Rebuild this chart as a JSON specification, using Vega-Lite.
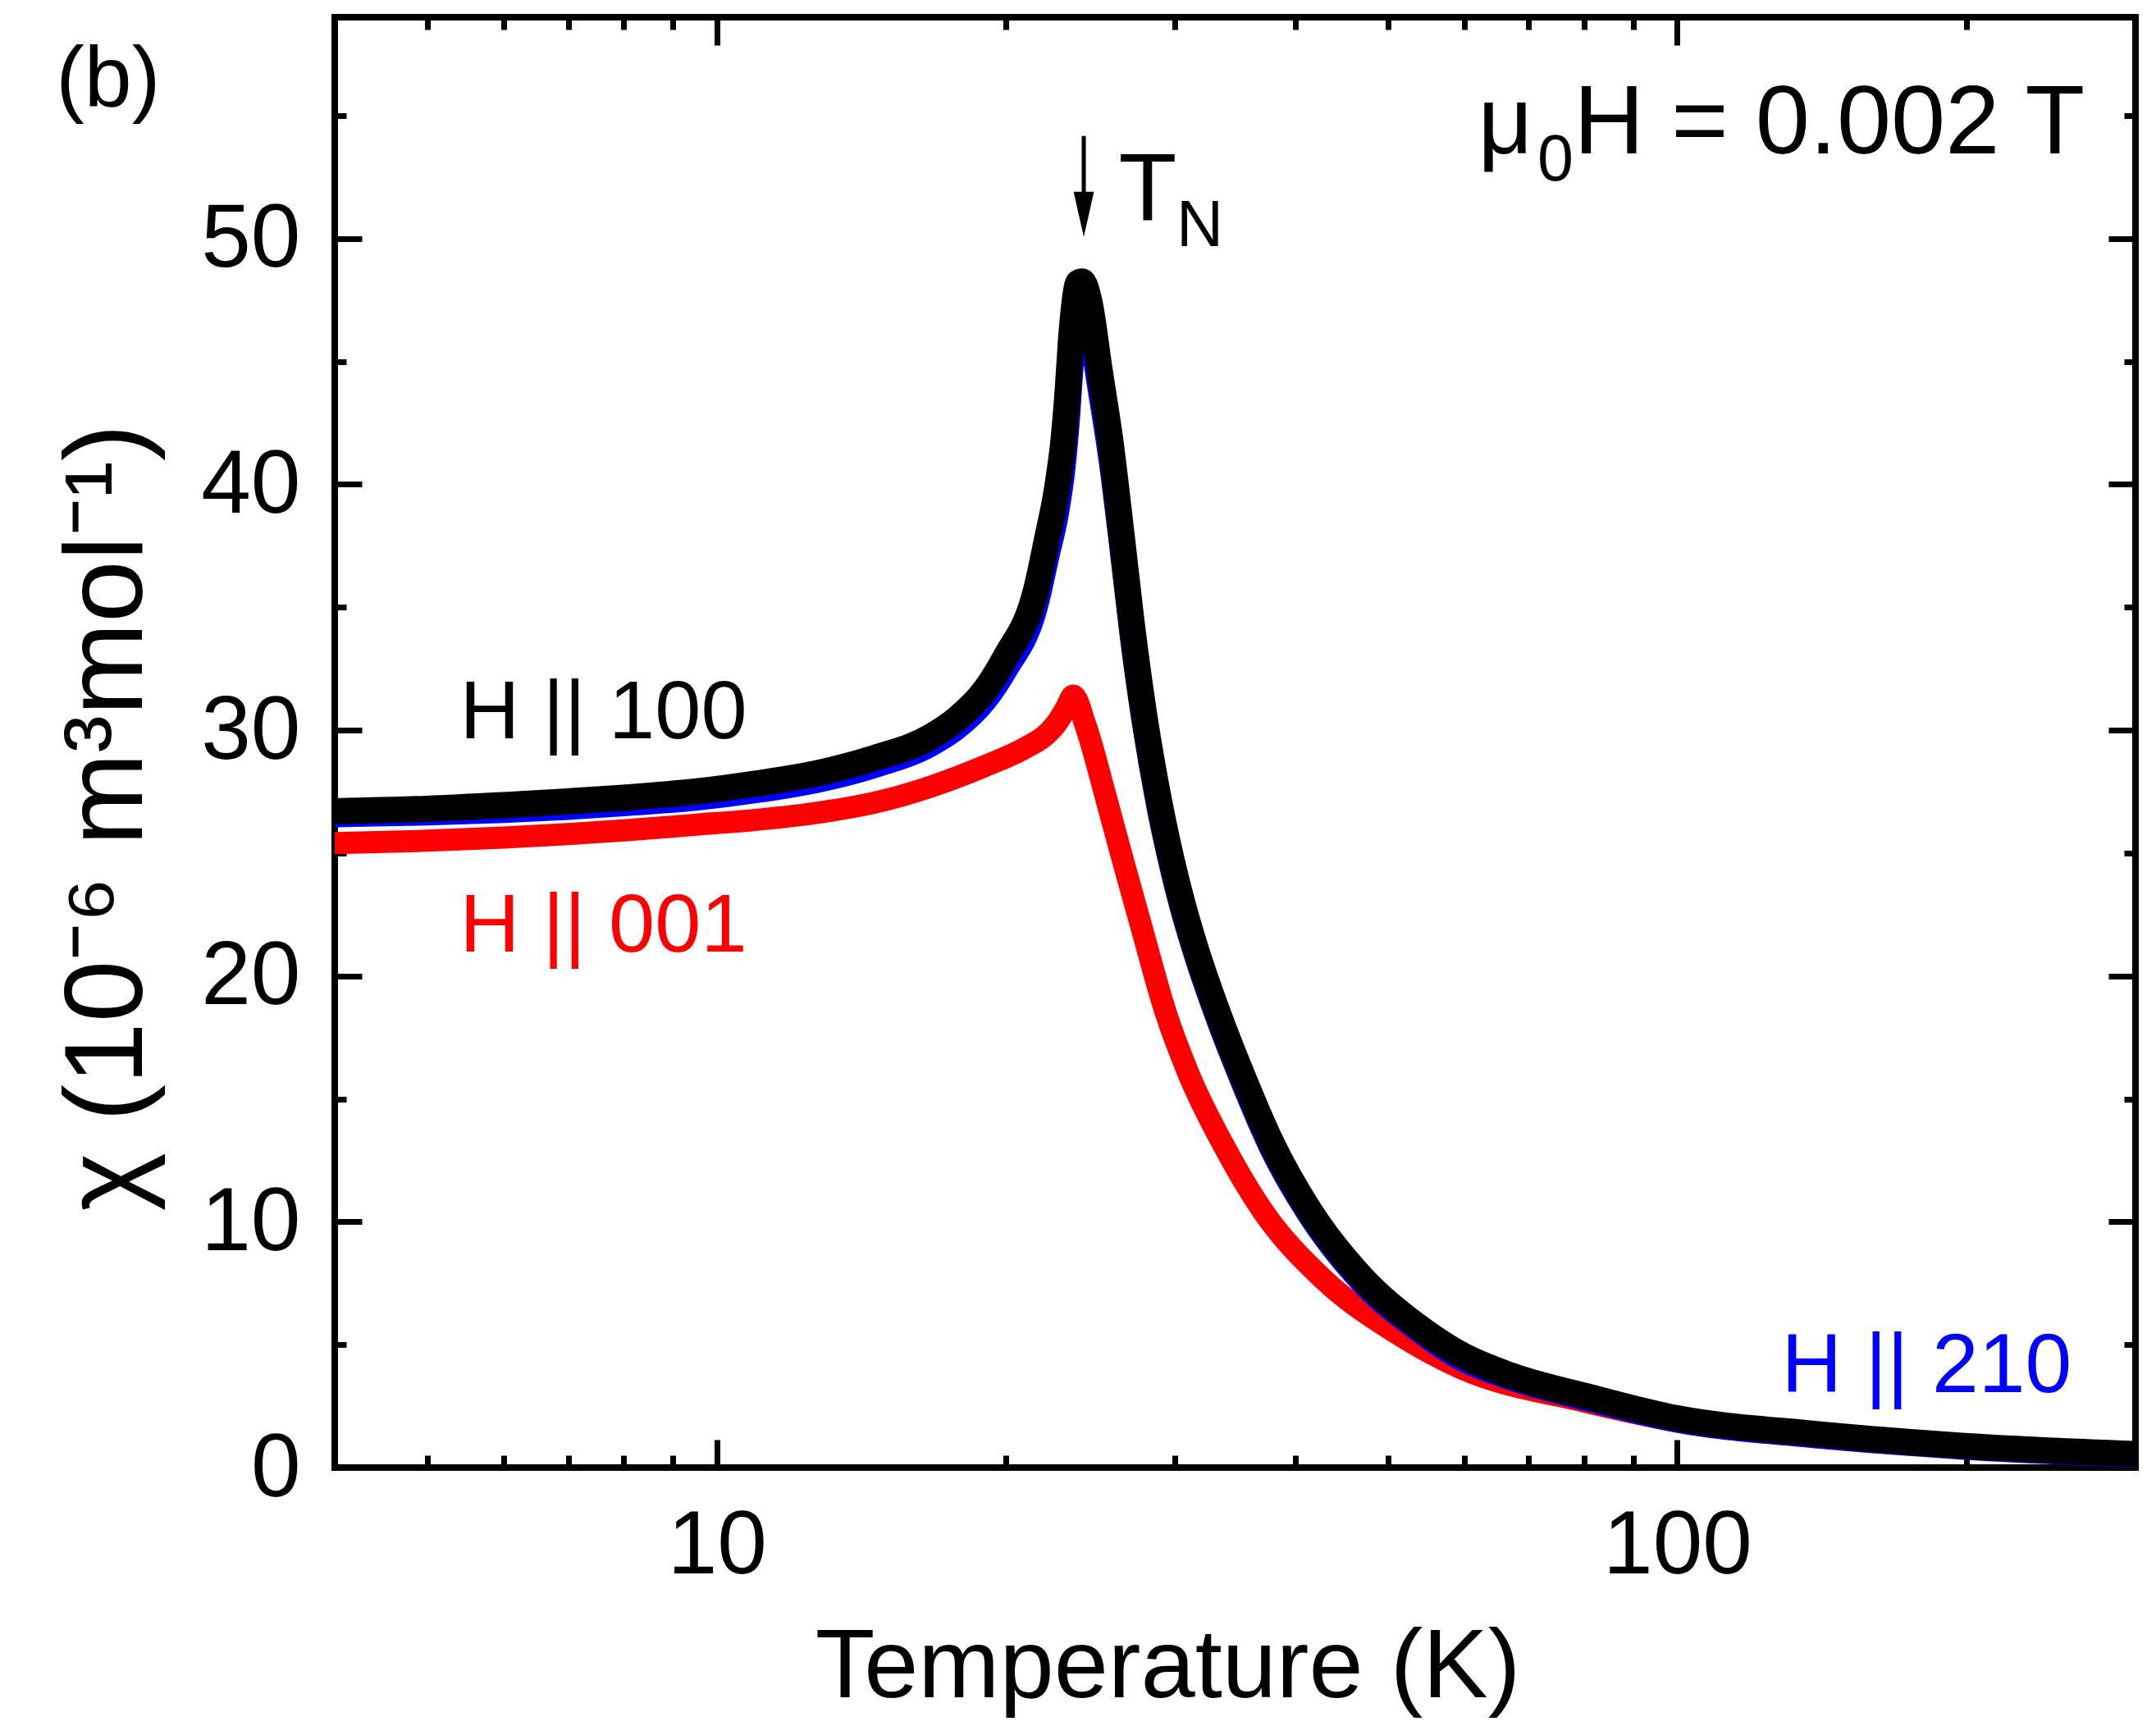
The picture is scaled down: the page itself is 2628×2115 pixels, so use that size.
{
  "$schema": "https://vega.github.io/schema/vega-lite/v6.json",
  "width": 2195,
  "height": 1768,
  "autosize": {"type": "none"},
  "padding": {"left": 408, "top": 21, "right": 25, "bottom": 326},
  "background": "white",
  "config": {
    "font": "Liberation Sans",
    "view": {"stroke": "black", "strokeWidth": 8},
    "axis": {
      "domain": false,
      "grid": false,
      "labelFont": "Liberation Sans",
      "titleFont": "Liberation Sans",
      "labelColor": "black",
      "titleColor": "black",
      "tickColor": "black",
      "tickWidth": 7,
      "tickCap": "butt",
      "labelFontSize": 109,
      "labelLimit": 0,
      "titleFontWeight": "normal"
    },
    "text": {"font": "Liberation Sans"}
  },
  "datasets": {
    "chi": [
      {"s": "H||100", "T": 4, "chi": 26.7}, {"s": "H||100", "T": 5, "chi": 26.8}, {"s": "H||100", "T": 6, "chi": 26.95},
      {"s": "H||100", "T": 7, "chi": 27.1}, {"s": "H||100", "T": 8, "chi": 27.25}, {"s": "H||100", "T": 9.5, "chi": 27.5},
      {"s": "H||100", "T": 11, "chi": 27.83}, {"s": "H||100", "T": 12.8, "chi": 28.27}, {"s": "H||100", "T": 14.6, "chi": 28.87},
      {"s": "H||100", "T": 16.7, "chi": 29.73}, {"s": "H||100", "T": 17.8, "chi": 30.47}, {"s": "H||100", "T": 19.0, "chi": 31.6},
      {"s": "H||100", "T": 20.0, "chi": 33.0}, {"s": "H||100", "T": 21.5, "chi": 35.7}, {"s": "H||100", "T": 22.08, "chi": 37.8},
      {"s": "H||100", "T": 22.6, "chi": 39.8}, {"s": "H||100", "T": 22.96, "chi": 41.8}, {"s": "H||100", "T": 23.19, "chi": 43.8},
      {"s": "H||100", "T": 23.37, "chi": 45.8}, {"s": "H||100", "T": 23.56, "chi": 47.3}, {"s": "H||100", "T": 23.8, "chi": 48.2},
      {"s": "H||100", "T": 24.0, "chi": 48.25}, {"s": "H||100", "T": 24.41, "chi": 47.47}, {"s": "H||100", "T": 25.04, "chi": 44.6},
      {"s": "H||100", "T": 25.69, "chi": 41.73}, {"s": "H||100", "T": 26.36, "chi": 38.07}, {"s": "H||100", "T": 27.04, "chi": 34.3},
      {"s": "H||100", "T": 27.85, "chi": 30.63}, {"s": "H||100", "T": 28.86, "chi": 27.13}, {"s": "H||100", "T": 29.78, "chi": 24.63},
      {"s": "H||100", "T": 30.49, "chi": 23.03}, {"s": "H||100", "T": 31.5, "chi": 21.13}, {"s": "H||100", "T": 33.3, "chi": 18.4},
      {"s": "H||100", "T": 35.2, "chi": 16.0}, {"s": "H||100", "T": 37.8, "chi": 13.2}, {"s": "H||100", "T": 41.4, "chi": 10.45},
      {"s": "H||100", "T": 47.0, "chi": 7.7}, {"s": "H||100", "T": 54.3, "chi": 5.6}, {"s": "H||100", "T": 59.5, "chi": 4.6},
      {"s": "H||100", "T": 67.0, "chi": 3.75}, {"s": "H||100", "T": 81.3, "chi": 2.85}, {"s": "H||100", "T": 100, "chi": 2.0},
      {"s": "H||100", "T": 138, "chi": 1.38}, {"s": "H||100", "T": 199, "chi": 0.88}, {"s": "H||100", "T": 300, "chi": 0.55},

      {"s": "H||210", "T": 4, "chi": 26.55}, {"s": "H||210", "T": 5, "chi": 26.62}, {"s": "H||210", "T": 6, "chi": 26.72},
      {"s": "H||210", "T": 7, "chi": 26.85}, {"s": "H||210", "T": 8, "chi": 27.0}, {"s": "H||210", "T": 9.5, "chi": 27.22},
      {"s": "H||210", "T": 11, "chi": 27.53}, {"s": "H||210", "T": 12.8, "chi": 27.97}, {"s": "H||210", "T": 14.6, "chi": 28.55},
      {"s": "H||210", "T": 16.7, "chi": 29.42}, {"s": "H||210", "T": 17.8, "chi": 30.12}, {"s": "H||210", "T": 19.0, "chi": 31.2},
      {"s": "H||210", "T": 20.0, "chi": 32.5}, {"s": "H||210", "T": 21.5, "chi": 35.1}, {"s": "H||210", "T": 22.08, "chi": 37.1},
      {"s": "H||210", "T": 22.6, "chi": 38.9}, {"s": "H||210", "T": 22.96, "chi": 40.8}, {"s": "H||210", "T": 23.19, "chi": 42.7},
      {"s": "H||210", "T": 23.37, "chi": 44.6}, {"s": "H||210", "T": 23.56, "chi": 46.0}, {"s": "H||210", "T": 23.8, "chi": 46.9},
      {"s": "H||210", "T": 24.0, "chi": 47.0}, {"s": "H||210", "T": 24.41, "chi": 46.5}, {"s": "H||210", "T": 25.04, "chi": 43.9},
      {"s": "H||210", "T": 25.69, "chi": 41.1}, {"s": "H||210", "T": 26.36, "chi": 37.6}, {"s": "H||210", "T": 27.04, "chi": 33.9},
      {"s": "H||210", "T": 27.85, "chi": 30.3}, {"s": "H||210", "T": 28.86, "chi": 26.83}, {"s": "H||210", "T": 29.78, "chi": 24.38},
      {"s": "H||210", "T": 30.49, "chi": 22.8}, {"s": "H||210", "T": 31.5, "chi": 20.93}, {"s": "H||210", "T": 33.3, "chi": 18.2},
      {"s": "H||210", "T": 35.2, "chi": 15.8}, {"s": "H||210", "T": 37.8, "chi": 13.0}, {"s": "H||210", "T": 41.4, "chi": 10.3},
      {"s": "H||210", "T": 47.0, "chi": 7.55}, {"s": "H||210", "T": 54.3, "chi": 5.48}, {"s": "H||210", "T": 59.5, "chi": 4.45},
      {"s": "H||210", "T": 67.0, "chi": 3.65}, {"s": "H||210", "T": 81.3, "chi": 2.75}, {"s": "H||210", "T": 100, "chi": 1.92},
      {"s": "H||210", "T": 138, "chi": 1.3}, {"s": "H||210", "T": 199, "chi": 0.82}, {"s": "H||210", "T": 300, "chi": 0.5},

      {"s": "H||001", "T": 4, "chi": 25.4}, {"s": "H||001", "T": 5, "chi": 25.5}, {"s": "H||001", "T": 6, "chi": 25.63},
      {"s": "H||001", "T": 7, "chi": 25.77}, {"s": "H||001", "T": 8, "chi": 25.92}, {"s": "H||001", "T": 9.5, "chi": 26.15},
      {"s": "H||001", "T": 11, "chi": 26.35}, {"s": "H||001", "T": 12.8, "chi": 26.65}, {"s": "H||001", "T": 14.6, "chi": 27.05},
      {"s": "H||001", "T": 16.7, "chi": 27.7}, {"s": "H||001", "T": 19.0, "chi": 28.53}, {"s": "H||001", "T": 21.0, "chi": 29.3},
      {"s": "H||001", "T": 22.0, "chi": 29.8}, {"s": "H||001", "T": 22.6, "chi": 30.3}, {"s": "H||001", "T": 23.1, "chi": 30.9},
      {"s": "H||001", "T": 23.5, "chi": 31.4}, {"s": "H||001", "T": 24.2, "chi": 30.2}, {"s": "H||001", "T": 25.4, "chi": 27.3},
      {"s": "H||001", "T": 26.4, "chi": 24.87}, {"s": "H||001", "T": 27.7, "chi": 21.93}, {"s": "H||001", "T": 29.3, "chi": 18.57},
      {"s": "H||001", "T": 31.0, "chi": 16.0}, {"s": "H||001", "T": 33.6, "chi": 13.2}, {"s": "H||001", "T": 37.0, "chi": 10.45},
      {"s": "H||001", "T": 42.7, "chi": 7.7}, {"s": "H||001", "T": 51.0, "chi": 5.47}, {"s": "H||001", "T": 59.5, "chi": 4.05},
      {"s": "H||001", "T": 80.4, "chi": 2.67}, {"s": "H||001", "T": 100, "chi": 1.88}, {"s": "H||001", "T": 149, "chi": 1.18},
      {"s": "H||001", "T": 199, "chi": 0.82}, {"s": "H||001", "T": 300, "chi": 0.5}
    ]
  },
  "resolve": {"axis": {"x": "independent", "y": "independent"}},
  "encoding": {
    "x": {"field": "T", "type": "quantitative", "scale": {"type": "log", "domain": [4, 300], "nice": false}, "axis": null},
    "y": {"field": "chi", "type": "quantitative", "scale": {"domain": [0, 59], "nice": false, "zero": false}, "axis": null}
  },
  "layer": [
    {
      "data": {"name": "chi"},
      "transform": [{"filter": "datum.s == 'H||001'"}],
      "mark": {"type": "line", "color": "#FF0000", "strokeWidth": 27, "strokeCap": "round", "strokeJoin": "round", "interpolate": "monotone", "clip": true},
      "encoding": {
        "x": {
          "field": "T", "type": "quantitative",
          "scale": {"type": "log", "domain": [4, 300], "nice": false},
          "axis": {
            "orient": "bottom", "values": [10, 100], "format": "d", "ticks": false, "tickSize": 0,
            "labelPadding": 128, "labelBaseline": "alphabetic", "labelFlush": false, "labelOverlap": false,
            "title": "Temperature (K)", "titleFontSize": 119, "titleX": 1015, "titleY": 279,
            "titleBaseline": "alphabetic", "titleAlign": "center"
          }
        },
        "y": {
          "field": "chi", "type": "quantitative",
          "scale": {"domain": [0, 59], "nice": false, "zero": false},
          "axis": {
            "orient": "left", "values": [0, 10, 20, 30, 40, 50], "format": "d", "ticks": false, "tickSize": 0,
            "labelPadding": 42, "labelBaseline": "alphabetic", "labelOffset": 34, "labelFlush": false, "labelOverlap": false,
            "title": "χ (10⁻⁶ m³mol⁻¹)", "titleFontSize": 136, "titleAngle": 270, "titleX": -236, "titleY": 975,
            "titleBaseline": "alphabetic", "titleAlign": "center"
          }
        }
      }
    },
    {
      "data": {"name": "chi"},
      "transform": [{"filter": "datum.s == 'H||210'"}],
      "mark": {"type": "line", "color": "#0000FF", "strokeWidth": 30, "strokeCap": "round", "strokeJoin": "round", "interpolate": "monotone", "clip": true},
      "encoding": {
        "x": {
          "field": "T", "type": "quantitative",
          "scale": {"type": "log", "domain": [4, 300], "nice": false},
          "axis": {
            "orient": "bottom", "values": [5, 6, 7, 8, 9, 10, 20, 30, 40, 50, 60, 70, 80, 90, 100, 200],
            "labels": false, "title": null,
            "tickSize": {"condition": {"test": "datum.value == 10 || datum.value == 100", "value": -34}, "value": -15}
          }
        },
        "y": {
          "field": "chi", "type": "quantitative",
          "scale": {"domain": [0, 59], "nice": false, "zero": false},
          "axis": {
            "orient": "left", "values": [0, 5, 10, 15, 20, 25, 30, 35, 40, 45, 50, 55],
            "labels": false, "title": null,
            "tickSize": {"condition": {"test": "datum.value % 10 == 0", "value": -33}, "value": -14}
          }
        }
      }
    },
    {
      "data": {"name": "chi"},
      "transform": [{"filter": "datum.s == 'H||100'"}],
      "mark": {"type": "line", "color": "#000000", "strokeWidth": 32, "strokeCap": "round", "strokeJoin": "round", "interpolate": "monotone", "clip": true},
      "encoding": {
        "x": {
          "field": "T", "type": "quantitative",
          "scale": {"type": "log", "domain": [4, 300], "nice": false},
          "axis": {
            "orient": "top", "values": [5, 6, 7, 8, 9, 10, 20, 30, 40, 50, 60, 70, 80, 90, 100, 200],
            "labels": false, "title": null,
            "tickSize": {"condition": {"test": "datum.value == 10 || datum.value == 100", "value": -34}, "value": -15}
          }
        },
        "y": {
          "field": "chi", "type": "quantitative",
          "scale": {"domain": [0, 59], "nice": false, "zero": false},
          "axis": {
            "orient": "right", "values": [0, 5, 10, 15, 20, 25, 30, 35, 40, 45, 50, 55],
            "labels": false, "title": null,
            "tickSize": {"condition": {"test": "datum.value % 10 == 0", "value": -33}, "value": -14}
          }
        }
      }
    },
    {
      "data": {"values": [{"T": 5.4, "chi": 29.66, "label": "H || 100"}]},
      "mark": {"type": "text", "align": "left", "baseline": "alphabetic", "fontSize": 101, "color": "black"},
      "encoding": {"text": {"field": "label"}}
    },
    {
      "data": {"values": [{"T": 5.4, "chi": 21.0, "label": "H || 001"}]},
      "mark": {"type": "text", "align": "left", "baseline": "alphabetic", "fontSize": 101, "color": "#FF0000"},
      "encoding": {"text": {"field": "label"}}
    },
    {
      "data": {"values": [{"T": 257.4, "chi": 3.08, "label": "H || 210"}]},
      "mark": {"type": "text", "align": "right", "baseline": "alphabetic", "fontSize": 102, "color": "#0000FF"},
      "encoding": {"text": {"field": "label"}}
    },
    {
      "data": {"values": [{"T": 62.0, "chi": 53.47, "label": "μ"}, {"T": 26.2, "chi": 50.73, "label": "T"}]},
      "mark": {"type": "text", "align": "left", "baseline": "alphabetic", "fontSize": 116, "color": "black"},
      "encoding": {"text": {"field": "label"}}
    },
    {
      "data": {"values": [{"T": 71.5, "chi": 52.37, "label": "0"}, {"T": 30.1, "chi": 49.7, "label": "N"}]},
      "mark": {"type": "text", "align": "left", "baseline": "alphabetic", "fontSize": 79, "color": "black"},
      "encoding": {"text": {"field": "label"}}
    },
    {
      "data": {"values": [{"T": 265.6, "chi": 53.47, "label": "H = 0.002 T"}]},
      "mark": {"type": "text", "align": "right", "baseline": "alphabetic", "fontSize": 119, "color": "black"},
      "encoding": {"text": {"field": "label"}}
    },
    {
      "data": {"values": [{"T": 2.05, "chi": 55.4, "label": "(b)"}]},
      "mark": {"type": "text", "align": "left", "baseline": "alphabetic", "fontSize": 104, "color": "black"},
      "encoding": {"text": {"field": "label"}}
    },
    {
      "data": {"values": [{"T": 24.1, "chi": 54.17, "chi2": 51.2}]},
      "mark": {"type": "rule", "color": "black", "strokeWidth": 5},
      "encoding": {"y2": {"field": "chi2"}}
    },
    {
      "data": {"values": [{"T": 24.1, "chi": 50.98}]},
      "mark": {"type": "point", "shape": "M-0.45,-1L0.45,-1L0,1Z", "size": 3025, "filled": true, "color": "black", "opacity": 1, "strokeWidth": 0}
    }
  ]
}
